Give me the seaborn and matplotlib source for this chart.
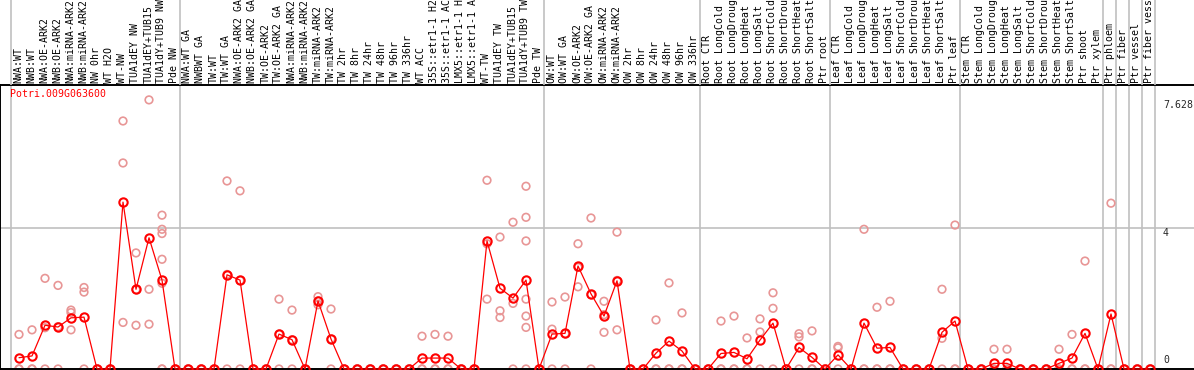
import numpy as np
import pandas as pd
import matplotlib
matplotlib.use("Agg")
import matplotlib.pyplot as plt
import seaborn as sns

# column labels (as shown, truncated in the header)
labels = [
    "NWA:WT", "NWB:WT", "NWA:OE-ARK2", "NWB:OE-ARK2", "NWA:miRNA-ARK2", "NWB:miRNA-ARK2",
    "NW 0hr", "WT H2O", "WT-NW", "TUA1dEY NW", "TUA1dEY+TUB15", "TUA1dY+TUB9 NW", "Pde NW",
    "NWA:WT GA", "NWBWT GA", "TW:WT", "TW:WT GA", "NWA:OE-ARK2 GA", "NWB:OE-ARK2 GA",
    "TW:OE-ARK2", "TW:OE-ARK2 GA", "NWA:miRNA-ARK2", "NWB:miRNA-ARK2", "TW:miRNA-ARK2",
    "TW:miRNA-ARK2", "TW 2hr", "TW 8hr", "TW 24hr", "TW 48hr", "TW 96hr", "TW 336hr",
    "WT ACC", "35S::etr1-1 H2", "35S::etr1-1 AC", "LMX5::etr1-1 H", "LMX5::etr1-1 A",
    "WT-TW", "TUA1dEY TW", "TUA1dEY+TUB15", "TUA1dY+TUB9 TW", "Pde TW",
    "OW:WT", "OW:WT GA", "OW:OE-ARK2", "OW:OE-ARK2 GA", "OW:miRNA-ARK2", "OW:miRNA-ARK2",
    "OW 2hr", "OW 8hr", "OW 24hr", "OW 48hr", "OW 96hr", "OW 336hr",
    "Root CTR", "Root LongCold", "Root LongDroug", "Root LongHeat", "Root LongSalt",
    "Root ShortCold", "Root ShortDrou", "Root ShortHeat", "Root ShortSalt", "Ptr root",
    "Leaf CTR", "Leaf LongCold", "Leaf LongDroug", "Leaf LongHeat", "Leaf LongSalt",
    "Leaf ShortCold", "Leaf ShortDrou", "Leaf ShortHeat", "Leaf ShortSalt", "Ptr leaf",
    "Stem CTR", "Stem LongCold", "Stem LongDroug", "Stem LongHeat", "Stem LongSalt",
    "Stem ShortCold", "Stem ShortDrou", "Stem ShortHeat", "Stem ShortSalt", "Ptr shoot",
    "Ptr xylem", "Ptr phloem", "Ptr fiber", "Ptr vessel", "Ptr fiber vess",
]

# mean expression per column
means = [
    0.32, 0.37, 1.24, 1.19, 1.45, 1.47, 0, 0, 4.73, 2.26, 3.72, 2.52, 0,
    0, 0, 0, 2.67, 2.52, 0, 0, 0.99, 0.83, 0, 1.93, 0.85, 0, 0, 0, 0, 0, 0,
    0.31, 0.31, 0.31, 0, 0, 3.63, 2.29, 2.01, 2.52, 0,
    0.99, 1.01, 2.92, 2.13, 1.50, 2.50, 0, 0, 0.45, 0.79, 0.51, 0,
    0, 0.44, 0.47, 0.29, 0.82, 1.30, 0, 0.61, 0.33, 0,
    0.40, 0, 1.30, 0.59, 0.61, 0, 0, 0, 1.04, 1.36,
    0, 0, 0.16, 0.16, 0, 0, 0, 0.16, 0.31, 1.01, 0,
    1.56, 0, 0, 0,
]

# individual replicates per column
replicates = [
    [0.98, 0, 0], [1.11, 0, 0], [2.57, 1.17, 0], [2.37, 1.2, 0], [1.67, 1.60, 1.11],
    [2.31, 2.18, 0], [0, 0, 0], [0, 0, 0], [7.03, 5.84, 1.32], [3.29, 2.25, 1.24],
    [7.628, 2.26, 1.27], [4.36, 3.96, 3.84, 3.11, 2.43, 0, 0], [0, 0, 0],
    [0, 0, 0], [0, 0, 0], [0, 0, 0], [5.33, 2.68, 0], [5.05, 2.51, 0], [0, 0, 0],
    [0, 0, 0], [1.98, 0.99, 0], [1.67, 0.83, 0], [0, 0, 0], [2.05, 1.93, 1.82],
    [1.70, 0.85, 0], [0, 0, 0], [0, 0, 0], [0, 0, 0], [0, 0, 0], [0, 0, 0], [0, 0, 0],
    [0.93, 0, 0], [0.98, 0, 0], [0.93, 0, 0], [0, 0, 0], [0, 0, 0],
    [5.35, 3.55, 1.98], [3.74, 1.65, 1.46], [4.16, 1.86, 0],
    [5.18, 4.30, 3.63, 1.98, 1.50, 1.18, 0], [0, 0, 0],
    [1.90, 1.13, 0], [2.04, 1.0, 0], [3.55, 2.88, 2.33], [4.28, 2.11, 0],
    [1.92, 1.54, 1.04], [3.88, 2.51, 1.11], [0, 0, 0], [0, 0, 0], [1.39, 0, 0],
    [2.44, 0, 0], [1.59, 0, 0], [0, 0, 0],
    [0, 0, 0], [1.36, 0, 0], [1.50, 0, 0], [0.88, 0, 0], [1.42, 1.05, 0],
    [2.16, 1.72, 0], [0, 0, 0], [1.00, 0.91, 0], [1.08, 0, 0], [0, 0, 0],
    [0.64, 0.60, 0], [0, 0, 0], [3.96, 0, 0], [1.75, 0, 0], [1.92, 0, 0],
    [0, 0, 0], [0, 0, 0], [0, 0, 0], [2.26, 0.87, 0], [4.08, 0, 0],
    [0, 0, 0], [0, 0, 0], [0.56, 0, 0], [0.56, 0, 0], [0, 0, 0], [0, 0, 0],
    [0, 0, 0], [0.56, 0, 0], [0.98, 0, 0], [3.06, 0, 0], [0, 0, 0],
    [4.70, 0, 0], [0, 0, 0], [0, 0, 0], [0, 0, 0],
]

# index of first column of each group (group separators)
group_starts = [0, 13, 41, 53, 63, 73, 84, 85, 86, 87, 88]

gene = "Potri.009G063600"
ymax = 7.628

mean_df = pd.DataFrame({"col": np.arange(len(labels)), "value": means})
rep_df = pd.DataFrame(
    [(i, v) for i, reps in enumerate(replicates) for v in reps],
    columns=["col", "value"],
)

sns.set_style("white")
plt.rcParams["font.family"] = ["DejaVu Sans Mono"]

W, H = 1194, 370
fig = plt.figure(figsize=(W / 100, H / 100), dpi=100)

# pixel layout: column i centre at x = 19 + 13*i ; value 0 at y=369, 4 at y=228
x0, dx = 19.0, 13.0
top_px, bot_px = 85.0, 369.0
ppu = 35.28
ax = fig.add_axes([0, (H - bot_px) / H, 1, (bot_px - top_px) / H])
hx = fig.add_axes([0, (H - top_px) / H, 1, top_px / H])

xlim = (-x0 / dx, (W - x0) / dx)
ax.set_xlim(xlim)
ax.set_ylim(0, (bot_px - top_px) / ppu)
hx.set_xlim(xlim)
hx.set_ylim(0, 1)
hx.axis("off")

sep_x = [g - 0.62 for g in group_starts]
for sx in sep_x:
    ax.axvline(sx, color="#c0c0c0", lw=1.2, zorder=0)
    hx.axvline(sx, color="#c0c0c0", lw=1.2, zorder=0)
ax.axhline(4, color="#c0c0c0", lw=1.2, zorder=0)

sns.scatterplot(data=rep_df, x="col", y="value", ax=ax, marker="o", s=30,
                facecolor="none", edgecolor="#e89696", linewidth=1.2,
                clip_on=False, zorder=2, legend=False)
sns.lineplot(data=mean_df, x="col", y="value", ax=ax, color="red", lw=0.9,
             marker="o", markersize=6, markerfacecolor="none",
             markeredgecolor="red", markeredgewidth=1.5, clip_on=False,
             zorder=3, legend=False)

ax.spines["right"].set_visible(False)
for sp in ["left", "top", "bottom"]:
    ax.spines[sp].set_color("black")
    ax.spines[sp].set_linewidth(1.4)
ax.set_xticks([])
ax.set_yticks([])
ax.set_xlabel("")
ax.set_ylabel("")
ax.patch.set_alpha(0)

fs = 7.1
for i, lab in enumerate(labels):
    hx.text(i - 0.05, 2 / top_px, lab, rotation=90, ha="center", va="bottom",
            fontsize=fs, color="black", clip_on=True)

ax.text(-0.7, 7.95, gene, color="red", fontsize=fs, ha="left", va="top")

tx = (1163 - x0) / dx
ax.text(tx, ymax, f"{ymax:g}", fontsize=fs, ha="left", va="top")
ax.text(tx, 4, "4", fontsize=fs, ha="left", va="top")
ax.text(tx, 0.1, "0", fontsize=fs, ha="left", va="bottom")

fig.savefig("out.png", dpi=100)
